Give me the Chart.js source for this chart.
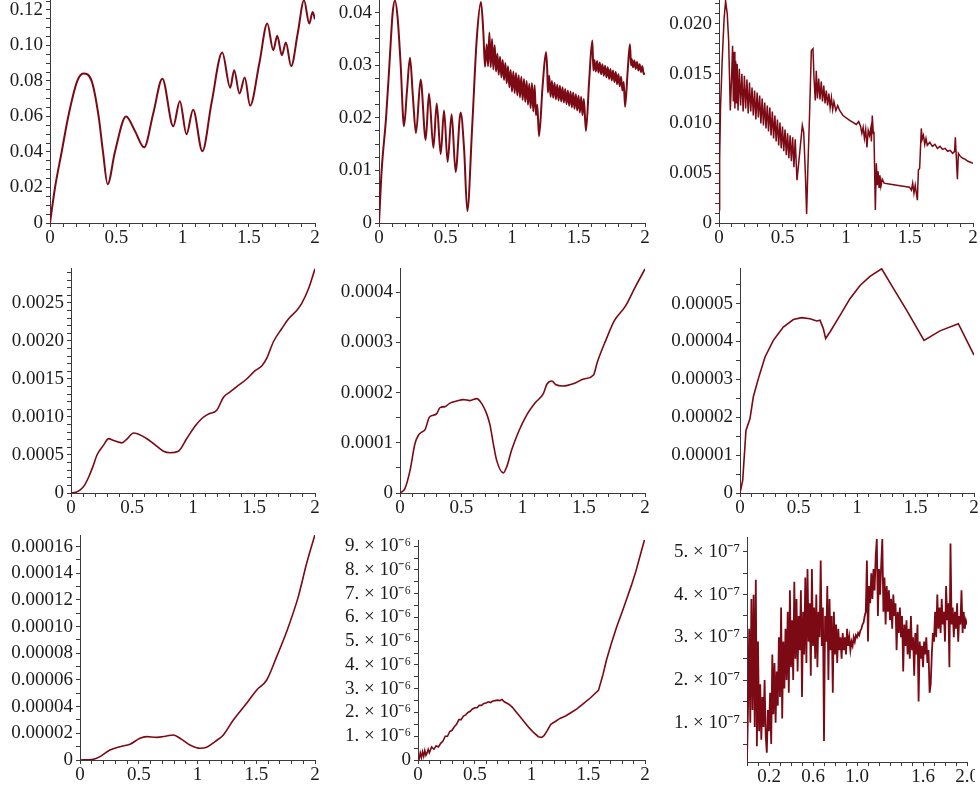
<!DOCTYPE html>
<html>
<head>
<meta charset="utf-8">
<script src="https://cdn.jsdelivr.net/npm/chart.js@4.4.1/dist/chart.umd.min.js"></script>
<style>
  html, body { margin: 0; padding: 0; background: #fff; }
  body { width: 980px; height: 785px; position: relative; overflow: hidden; }
  canvas { position: absolute; }
</style>
</head>
<body>
<canvas id="c1"></canvas><canvas id="c2"></canvas><canvas id="c3"></canvas>
<canvas id="c4"></canvas><canvas id="c5"></canvas><canvas id="c6"></canvas>
<canvas id="c7"></canvas><canvas id="c8"></canvas><canvas id="c9"></canvas>
<script>
// ---- shared x axis ticks ----
const xTickVals = [0, 0.5, 1, 1.5, 2];
const xTickLabels = ['0', '0.5', '1', '1.5', '2'];
const x9TickVals = [0.2, 0.6, 1.0, 1.6, 2.0];
const x9TickLabels = ['0.2', '0.6', '1.0', '1.6', '2.0'];

// ---- panel 1 ----
const p1x = [0, 0.038, 0.088, 0.138, 0.206, 0.252, 0.314, 0.367, 0.40, 0.435,
  0.49, 0.574, 0.64, 0.71, 0.78, 0.848, 0.93, 0.98, 1.03, 1.08,
  1.15, 1.22, 1.30, 1.36, 1.39, 1.43, 1.47, 1.51, 1.58, 1.64,
  1.685, 1.715, 1.75, 1.78, 1.82, 1.87, 1.917, 1.957, 1.982, 2.0];
const p1y = [0, 0.02, 0.04, 0.06, 0.08, 0.0842, 0.08, 0.06, 0.04, 0.0218,
  0.04, 0.060, 0.052, 0.0426, 0.062, 0.0813, 0.0545, 0.0686, 0.050, 0.0638,
  0.0404, 0.068, 0.096, 0.0762, 0.086, 0.0729, 0.0819, 0.0661, 0.090, 0.1123,
  0.0973, 0.1054, 0.0945, 0.1016, 0.0883, 0.107, 0.1254, 0.1123, 0.1189, 0.1147];
const p1YTicks = [0, 0.02, 0.04, 0.06, 0.08, 0.10, 0.12];
const p1YLabels = ['0', '0.02', '0.04', '0.06', '0.08', '0.10', '0.12'];

// ---- panel 2 ----
const p2x = [0, 0.02, 0.053, 0.078, 0.103, 0.12, 0.14, 0.163, 0.188, 0.21,
  0.233, 0.255, 0.278, 0.313, 0.351, 0.376, 0.409, 0.434, 0.464, 0.489,
  0.516, 0.546, 0.576, 0.614, 0.64, 0.664, 0.70, 0.735, 0.767, 0.785,
  0.797, 0.81, 0.82, 0.83, 0.84, 0.85, 0.86, 0.87, 0.88, 0.89,
  0.90, 0.91, 0.92, 0.93, 0.94, 0.95, 0.96, 0.97, 0.98, 0.99,
  1.00, 1.01, 1.02, 1.03, 1.04, 1.05, 1.06, 1.07, 1.08, 1.09,
  1.10, 1.11, 1.12, 1.13, 1.14, 1.15, 1.16, 1.17, 1.18, 1.19,
  1.203, 1.23, 1.256, 1.265, 1.27, 1.28, 1.29, 1.30, 1.31, 1.32,
  1.33, 1.34, 1.35, 1.36, 1.37, 1.38, 1.39, 1.40, 1.41, 1.42,
  1.43, 1.44, 1.45, 1.46, 1.47, 1.48, 1.49, 1.50, 1.51, 1.52,
  1.53, 1.54, 1.556, 1.58, 1.604, 1.612, 1.62, 1.63, 1.64, 1.65,
  1.66, 1.67, 1.68, 1.69, 1.70, 1.71, 1.72, 1.73, 1.74, 1.75,
  1.76, 1.77, 1.78, 1.79, 1.80, 1.81, 1.82, 1.83, 1.84, 1.85,
  1.87, 1.887, 1.895, 1.90, 1.91, 1.92, 1.93, 1.94, 1.95, 1.96,
  1.97, 1.98, 1.99, 2.00];
const p2y = [0, 0.010, 0.020, 0.030, 0.040, 0.0423, 0.039, 0.030, 0.0184, 0.025,
  0.0314, 0.024, 0.0171, 0.0273, 0.0158, 0.0246, 0.0143, 0.0227, 0.0131, 0.0214,
  0.0116, 0.0207, 0.0097, 0.021, 0.014, 0.0023, 0.018, 0.035, 0.042, 0.036,
  0.0297, 0.0340, 0.0298, 0.0362, 0.0296, 0.0350, 0.0292, 0.0338, 0.0288, 0.0322,
  0.0282, 0.0316, 0.0277, 0.0310, 0.0272, 0.0304, 0.0266, 0.0298, 0.0258, 0.0291,
  0.0250, 0.0288, 0.0247, 0.0285, 0.0243, 0.0281, 0.0239, 0.0278, 0.0234, 0.0274,
  0.0230, 0.0270, 0.0225, 0.0265, 0.0218, 0.0266, 0.0212, 0.0262, 0.0205, 0.0225,
  0.0165, 0.026, 0.0325, 0.0290, 0.0248, 0.0280, 0.0240, 0.0270, 0.0238, 0.0266,
  0.0235, 0.0263, 0.0233, 0.0261, 0.0231, 0.0258, 0.0229, 0.0255, 0.0226, 0.0252,
  0.0223, 0.0250, 0.0220, 0.0248, 0.0217, 0.0245, 0.0214, 0.0242, 0.0210, 0.0240,
  0.0205, 0.0236, 0.0175, 0.0270, 0.0347, 0.0290, 0.0310, 0.0288, 0.0308, 0.0286,
  0.0305, 0.0283, 0.0302, 0.0280, 0.0299, 0.0277, 0.0296, 0.0274, 0.0293, 0.0271,
  0.0290, 0.0268, 0.0287, 0.0264, 0.0283, 0.0260, 0.0278, 0.0252, 0.0268, 0.0221,
  0.029, 0.0340, 0.030, 0.0312, 0.0296, 0.0309, 0.0293, 0.0306, 0.0290, 0.0302,
  0.0287, 0.0298, 0.0283, 0.0285];
const p2YTicks = [0, 0.01, 0.02, 0.03, 0.04];
const p2YLabels = ['0', '0.01', '0.02', '0.03', '0.04'];

// ---- panel 3 ----
const p3x = [0, 0.005, 0.012, 0.025, 0.040, 0.052, 0.065, 0.076, 0.089, 0.100,
  0.107, 0.113, 0.120, 0.125, 0.131, 0.137, 0.143, 0.15, 0.16, 0.17,
  0.18, 0.19, 0.20, 0.21, 0.22, 0.23, 0.24, 0.25, 0.26, 0.27,
  0.28, 0.29, 0.30, 0.31, 0.32, 0.33, 0.34, 0.35, 0.36, 0.37,
  0.38, 0.39, 0.40, 0.41, 0.42, 0.43, 0.44, 0.45, 0.46, 0.47,
  0.48, 0.49, 0.50, 0.51, 0.52, 0.53, 0.54, 0.55, 0.56, 0.57,
  0.58, 0.59, 0.60, 0.614, 0.635, 0.656, 0.667, 0.680, 0.690, 0.700,
  0.714, 0.727, 0.740, 0.748, 0.758, 0.766, 0.775, 0.785, 0.795, 0.805,
  0.815, 0.825, 0.835, 0.845, 0.855, 0.865, 0.875, 0.885, 0.895, 0.905,
  0.92, 0.935, 0.95, 0.976, 1.029, 1.081, 1.100, 1.115, 1.125, 1.135,
  1.145, 1.155, 1.165, 1.175, 1.185, 1.195, 1.200, 1.207, 1.215, 1.220,
  1.231, 1.239, 1.246, 1.253, 1.260, 1.267, 1.275, 1.285, 1.30, 1.35,
  1.40, 1.45, 1.50, 1.515, 1.525, 1.535, 1.545, 1.555, 1.562, 1.570,
  1.580, 1.593, 1.600, 1.610, 1.620, 1.630, 1.64, 1.66, 1.68, 1.70,
  1.72, 1.74, 1.76, 1.78, 1.80, 1.82, 1.84, 1.855, 1.861, 1.877,
  1.885, 1.90, 1.92, 1.94, 1.96, 1.98, 2.00];
const p3y = [0.0013, 0.0063, 0.0116, 0.0163, 0.0205, 0.0223, 0.0210, 0.0183, 0.0113, 0.0150,
  0.0178, 0.0122, 0.0172, 0.0115, 0.0163, 0.0120, 0.0160, 0.0113, 0.0155, 0.0118,
  0.0150, 0.0112, 0.0148, 0.0115, 0.0144, 0.0110, 0.0141, 0.0112, 0.0136, 0.0108,
  0.0133, 0.0104, 0.0131, 0.0106, 0.0128, 0.0100, 0.0125, 0.0098, 0.0121, 0.0095,
  0.0118, 0.0092, 0.0116, 0.0088, 0.0112, 0.0085, 0.0108, 0.0082, 0.0104, 0.0078,
  0.0101, 0.0075, 0.0097, 0.0072, 0.0094, 0.0068, 0.0090, 0.0065, 0.0088, 0.0062,
  0.0086, 0.0056, 0.0084, 0.0043, 0.0070, 0.0098, 0.0091, 0.0050, 0.0009, 0.0056,
  0.0113, 0.0173, 0.0175, 0.0146, 0.0123, 0.0153, 0.0125, 0.0145, 0.0124, 0.0142,
  0.0122, 0.0138, 0.0120, 0.0133, 0.0118, 0.0130, 0.0116, 0.0126, 0.0114, 0.0122,
  0.0113, 0.0118, 0.0113, 0.0108, 0.0103, 0.0099, 0.0102, 0.0097, 0.0090, 0.0096,
  0.0085, 0.0094, 0.0076, 0.0093, 0.0088, 0.0095, 0.0082, 0.0108, 0.0090, 0.0092,
  0.0013, 0.0060, 0.0038, 0.0052, 0.0036, 0.0048, 0.0037, 0.0044, 0.0040, 0.0039,
  0.0038, 0.0037, 0.0036, 0.0033, 0.0040, 0.0030, 0.0038, 0.0029, 0.0023, 0.0053,
  0.0055, 0.0095, 0.0084, 0.0088, 0.0079, 0.0085, 0.0078, 0.0081, 0.0077, 0.0079,
  0.0075, 0.0077, 0.0074, 0.0075, 0.0072, 0.0073, 0.0070, 0.0072, 0.0086, 0.0044,
  0.0070, 0.0067, 0.0065, 0.0064, 0.0062, 0.0061, 0.0060];
const p3YTicks = [0, 0.005, 0.010, 0.015, 0.020];
const p3YLabels = ['0', '0.005', '0.010', '0.015', '0.020'];

// ---- panel 4 ----
const p4x = [0, 0.04, 0.076, 0.11, 0.145, 0.18, 0.213, 0.267, 0.308, 0.35,
  0.417, 0.458, 0.513, 0.595, 0.677, 0.758, 0.813, 0.88, 0.95, 1.018,
  1.072, 1.127, 1.195, 1.25, 1.304, 1.359, 1.44, 1.509, 1.563, 1.604,
  1.659, 1.727, 1.782, 1.85, 1.89, 1.95, 2.0];
const p4y = [0, 0.00001, 0.00004, 0.0001, 0.00021, 0.00035, 0.0005, 0.00063, 0.000715, 0.00069,
  0.00066, 0.00071, 0.00079, 0.00074, 0.00065, 0.00055, 0.00053, 0.00055, 0.00072, 0.00088,
  0.00098, 0.00104, 0.00109, 0.00126, 0.00133, 0.0014, 0.0015, 0.00161, 0.00167, 0.00177,
  0.00199, 0.00216, 0.00229, 0.0024, 0.00249, 0.0027, 0.00295];
const p4YTicks = [0, 0.0005, 0.0010, 0.0015, 0.0020, 0.0025];
const p4YLabels = ['0', '0.0005', '0.0010', '0.0015', '0.0020', '0.0025'];

// ---- panel 5 ----
const p5x = [0, 0.04, 0.082, 0.122, 0.15, 0.177, 0.204, 0.24, 0.272, 0.30,
  0.327, 0.367, 0.408, 0.463, 0.517, 0.571, 0.626, 0.667, 0.707, 0.735,
  0.762, 0.789, 0.844, 0.871, 0.912, 0.966, 1.034, 1.102, 1.17, 1.2,
  1.24, 1.27, 1.33, 1.42, 1.5, 1.58, 1.61, 1.68, 1.75, 1.84,
  1.92, 2.0];
const p5y = [0, 0.0000086, 0.000045, 0.000098, 0.000115, 0.000121, 0.000126, 0.000151, 0.000155, 0.000158,
  0.00017, 0.000172, 0.000179, 0.000183, 0.000186, 0.000184, 0.000188, 0.000178, 0.000158, 0.000135,
  0.000098, 0.000065, 0.00004, 0.000052, 0.000086, 0.000121, 0.000155, 0.000179, 0.000198, 0.000217,
  0.000223, 0.000216, 0.000213, 0.000218, 0.000227, 0.000235, 0.00026, 0.000304, 0.000343, 0.000372,
  0.00041, 0.000446];
const p5YTicks = [0, 0.0001, 0.0002, 0.0003, 0.0004];
const p5YLabels = ['0', '0.0001', '0.0002', '0.0003', '0.0004'];

// ---- panel 6 ----
const p6x = [0, 0.023, 0.051, 0.085, 0.114, 0.157, 0.214, 0.285, 0.37, 0.456,
  0.527, 0.598, 0.655, 0.684, 0.712, 0.732, 0.769, 0.855, 0.94, 1.026,
  1.111, 1.211, 1.311, 1.425, 1.573, 1.709, 1.866, 2.0];
const p6y = [0, 0.0000033, 0.0000165, 0.0000196, 0.0000254, 0.0000302, 0.0000359, 0.0000403, 0.0000438, 0.0000458,
  0.0000463, 0.000046, 0.0000454, 0.0000456, 0.0000434, 0.0000408, 0.0000425, 0.0000469, 0.0000513, 0.0000548,
  0.0000572, 0.0000592, 0.000054, 0.0000482, 0.0000403, 0.0000428, 0.0000447, 0.0000364];
const p6YTicks = [0, 0.00001, 0.00002, 0.00003, 0.00004, 0.00005];
const p6YLabels = ['0', '0.00001', '0.00002', '0.00003', '0.00004', '0.00005'];

// ---- panel 7 ----
const p7x = [0, 0.113, 0.17, 0.255, 0.34, 0.426, 0.51, 0.567, 0.652, 0.738,
  0.794, 0.865, 0.936, 1.021, 1.078, 1.149, 1.22, 1.305, 1.418, 1.504,
  1.589, 1.674, 1.759, 1.858, 1.929, 2.0];
const p7y = [0, 0.0000005, 0.0000025, 0.0000075, 0.00001, 0.0000118, 0.0000163, 0.0000175, 0.000017, 0.000018,
  0.0000188, 0.0000155, 0.0000113, 0.0000088, 0.0000095, 0.0000138, 0.0000188, 0.00003, 0.0000425, 0.0000525,
  0.00006, 0.0000775, 0.0000963, 0.0001225, 0.0001475, 0.000169];
const p7YTicks = [0, 0.00002, 0.00004, 0.00006, 0.00008, 0.00010, 0.00012, 0.00014, 0.00016];
const p7YLabels = ['0', '0.00002', '0.00004', '0.00006', '0.00008', '0.00010', '0.00012', '0.00014', '0.00016'];

// ---- panel 8 (values in units of 10^-6) ----
const p8x = [0, 0.01, 0.02, 0.03, 0.04, 0.05, 0.06, 0.07, 0.08, 0.09,
  0.10, 0.12, 0.14, 0.16, 0.18, 0.20, 0.22, 0.24, 0.26, 0.28,
  0.30, 0.32, 0.34, 0.36, 0.38, 0.40, 0.42, 0.44, 0.46, 0.48,
  0.50, 0.52, 0.54, 0.56, 0.58, 0.60, 0.62, 0.64, 0.66, 0.68,
  0.70, 0.72, 0.74, 0.76, 0.78, 0.80, 0.83, 0.86, 0.90, 0.94,
  0.98, 1.02, 1.06, 1.09, 1.11, 1.14, 1.17, 1.21, 1.25, 1.30,
  1.35, 1.40, 1.46, 1.52, 1.59, 1.63, 1.66, 1.70, 1.75, 1.80,
  1.84, 1.88, 1.92, 1.96, 2.00];
const p8y = [0.15, 0.05, 0.3, 0.1, 0.35, 0.15, 0.4, 0.2, 0.3, 0.45,
  0.3, 0.55, 0.45, 0.6, 0.55, 0.7, 0.8, 1.0, 1.0, 1.2,
  1.25, 1.4, 1.5, 1.7, 1.7, 1.85, 1.9, 2.0, 2.05, 2.15,
  2.2, 2.2, 2.3, 2.3, 2.38, 2.4, 2.45, 2.42, 2.48, 2.5,
  2.52, 2.5, 2.55, 2.45, 2.4, 2.35, 2.23, 2.05, 1.82, 1.58,
  1.35, 1.15, 0.98, 0.95, 1.02, 1.25, 1.5, 1.62, 1.75, 1.85,
  2.0, 2.15, 2.38, 2.62, 2.93, 3.6, 4.2, 4.85, 5.6, 6.25,
  6.8, 7.35, 7.95, 8.65, 9.35];
const p8YTicks = [0, 1, 2, 3, 4, 5, 6, 7, 8, 9];
const p8YLabels = ['0', '1. × 10⁻⁶', '2. × 10⁻⁶', '3. × 10⁻⁶', '4. × 10⁻⁶', '5. × 10⁻⁶',
  '6. × 10⁻⁶', '7. × 10⁻⁶', '8. × 10⁻⁶', '9. × 10⁻⁶'];

// ---- panel 9 (values in units of 10^-7) ----
const p9x = [0.00, 0.01, 0.02, 0.03, 0.04, 0.05, 0.06, 0.07, 0.08, 0.09,
  0.10, 0.11, 0.12, 0.13, 0.14, 0.15, 0.16, 0.17, 0.18, 0.19,
  0.20, 0.21, 0.22, 0.23, 0.24, 0.25, 0.26, 0.27, 0.28, 0.29,
  0.30, 0.31, 0.32, 0.33, 0.34, 0.35, 0.36, 0.37, 0.38, 0.39,
  0.40, 0.41, 0.42, 0.43, 0.44, 0.45, 0.46, 0.47, 0.48, 0.49,
  0.50, 0.51, 0.52, 0.53, 0.54, 0.55, 0.56, 0.57, 0.58, 0.59,
  0.60, 0.61, 0.62, 0.63, 0.64, 0.65, 0.66, 0.67, 0.68, 0.69,
  0.70, 0.71, 0.72, 0.73, 0.74, 0.75, 0.76, 0.77, 0.78, 0.79,
  0.80, 0.81, 0.82, 0.83, 0.84, 0.85, 0.86, 0.87, 0.88, 0.89,
  0.90, 0.91, 0.92, 0.93, 0.94, 0.95, 0.96, 0.97, 0.98, 0.99,
  1.00, 1.01, 1.02, 1.03, 1.04, 1.05, 1.06, 1.07, 1.08, 1.09,
  1.10, 1.11, 1.12, 1.13, 1.14, 1.15, 1.16, 1.17, 1.18, 1.19,
  1.20, 1.21, 1.22, 1.23, 1.24, 1.25, 1.26, 1.27, 1.28, 1.29,
  1.30, 1.31, 1.32, 1.33, 1.34, 1.35, 1.36, 1.37, 1.38, 1.39,
  1.40, 1.41, 1.42, 1.43, 1.44, 1.45, 1.46, 1.47, 1.48, 1.49,
  1.50, 1.51, 1.52, 1.53, 1.54, 1.55, 1.56, 1.57, 1.58, 1.59,
  1.60, 1.61, 1.62, 1.63, 1.64, 1.65, 1.66, 1.67, 1.68, 1.69,
  1.70, 1.71, 1.72, 1.73, 1.74, 1.75, 1.76, 1.77, 1.78, 1.79,
  1.80, 1.81, 1.82, 1.83, 1.84, 1.85, 1.86, 1.87, 1.88, 1.89,
  1.90, 1.91, 1.92, 1.93, 1.94, 1.95, 1.96, 1.97, 1.98, 1.99,
  2.00];
const p9y = [0.12, 1.4, 3.2, 1.0, 3.9, 1.3, 4.0, 0.9, 4.35, 0.45,
  2.9, 0.8, 1.9, 0.6, 1.6, 0.9, 2.0, 0.7, 0.3, 1.3,
  0.8, 1.7, 0.5, 2.6, 1.2, 2.4, 1.0, 2.2, 1.4, 3.0,
  1.6, 3.7, 1.1, 2.9, 1.8, 3.2, 2.0, 3.6, 1.7, 4.1,
  2.3, 3.4, 2.0, 4.3, 2.5, 3.9, 2.2, 3.5, 2.7, 4.1,
  1.6, 3.6, 2.6, 4.4, 2.4, 4.6, 2.9, 3.8, 2.1, 4.6,
  2.8, 3.7, 2.5, 4.0, 2.3, 3.6, 3.0, 4.8, 2.8, 3.7,
  0.57, 3.5, 2.9, 4.2, 2.0, 3.9, 2.7, 3.5, 1.7, 3.6,
  2.6, 3.3, 2.4, 3.2, 2.7, 3.0, 2.5, 3.1, 2.7, 3.0,
  2.6, 3.2, 2.8, 3.0, 2.7, 2.9, 2.8, 3.0, 2.9, 3.05,
  3.0, 3.1, 3.05, 3.15, 3.2, 3.3, 3.35, 3.5, 3.6, 4.8,
  2.9, 4.2, 3.8, 4.5, 3.9, 4.6, 4.1, 4.9, 5.3, 3.5,
  4.6, 4.0, 4.7, 5.3, 3.6, 4.4, 3.3, 4.2, 3.6, 4.1,
  3.4, 3.9, 3.2, 4.0, 3.5, 3.8, 2.7, 3.6, 3.1, 3.7,
  3.0, 3.5, 2.2, 3.3, 2.8, 3.4, 2.6, 3.2, 2.5, 3.5,
  2.7, 3.0, 2.1, 3.1, 2.6, 3.3, 1.5, 2.9, 2.5, 2.8,
  2.3, 2.9, 2.6, 3.0, 2.4, 2.7, 1.7, 1.9, 2.6, 3.1,
  2.9, 3.6, 3.0, 4.0, 3.2, 3.7, 3.1, 3.9, 3.3, 3.6,
  2.9, 4.2, 3.4, 3.8, 2.3, 5.2, 3.3, 3.7, 3.0, 3.6,
  3.2, 3.8, 2.9, 3.5, 3.3, 4.1, 3.1, 3.6, 3.2, 3.4,
  3.3];
const p9YTicks = [1, 2, 3, 4, 5];
const p9YLabels = ['1. × 10⁻⁷', '2. × 10⁻⁷', '3. × 10⁻⁷', '4. × 10⁻⁷', '5. × 10⁻⁷'];

// ---- styling ----
const LINE_COLOR = '#7b0a14';
const AXIS_COLOR = '#3a3a3a';
const TEXT_COLOR = '#1c1c1c';
const TICK_FONT = { family: "'Liberation Serif', 'Times New Roman', serif", size: 19 };
const PAD_R = 8, X_H = 27;

// frame = pixel box of the plot area on the page, yW = room for y labels
const panels = [
  { id: 'c1', xs: p1x, ys: p1y, yMin: 0, yMax: 0.1256, yT: p1YTicks, yL: p1YLabels, yMinor: 0.005,
    frame: { left: 50, right: 315, top: 0, bottom: 223, yW: 50 }, smooth: true, width: 2 },
  { id: 'c2', xs: p2x, ys: p2y, yMin: 0, yMax: 0.0424, yT: p2YTicks, yL: p2YLabels, yMinor: 0.0025,
    frame: { left: 379, right: 645, top: 0, bottom: 223, yW: 49 }, smooth: true, width: 2 },
  { id: 'c3', xs: p3x, ys: p3y, yMin: 0, yMax: 0.0224, yT: p3YTicks, yL: p3YLabels, yMinor: 0.001,
    frame: { left: 719, right: 973, top: 0, bottom: 223, yW: 59 }, smooth: false, width: 1.5 },
  { id: 'c4', xs: p4x, ys: p4y, yMin: 0, yMax: 0.00296, yT: p4YTicks, yL: p4YLabels, yMinor: 0.0001,
    frame: { left: 71, right: 315, top: 268, bottom: 493, yW: 71 }, smooth: true, width: 1.6 },
  { id: 'c5', xs: p5x, ys: p5y, yMin: 0, yMax: 0.000448, yT: p5YTicks, yL: p5YLabels, yMinor: 0.00005,
    frame: { left: 400, right: 645, top: 268, bottom: 493, yW: 70 }, smooth: true, width: 1.6 },
  { id: 'c6', xs: p6x, ys: p6y, yMin: 0, yMax: 0.0000594, yT: p6YTicks, yL: p6YLabels, yMinor: 0.000005,
    frame: { left: 740, right: 974, top: 268, bottom: 493, yW: 78 }, smooth: false, width: 1.6 },
  { id: 'c7', xs: p7x, ys: p7y, yMin: 0, yMax: 0.0001687, yT: p7YTicks, yL: p7YLabels, yMinor: 0.00001,
    frame: { left: 80, right: 315, top: 535, bottom: 760, yW: 80 }, smooth: true, width: 1.6 },
  { id: 'c8', xs: p8x, ys: p8y, yMin: 0, yMax: 9.26, yT: p8YTicks, yL: p8YLabels, yMinor: 0.5,
    frame: { left: 418, right: 645, top: 540, bottom: 760, yW: 88 }, smooth: false, width: 1.6 },
  { id: 'c9', xs: p9x, ys: p9y, yMin: 0.08, yMax: 5.35, yT: p9YTicks, yL: p9YLabels, yMinor: 0.5,
    frame: { left: 747, right: 967, top: 537, bottom: 762, yW: 87 }, smooth: false, width: 1.8,
    xT: x9TickVals, xL: x9TickLabels }
];

function buildTicks(vals, labels, minor, min, max) {
  const ticks = vals.map((v, i) => ({ value: v, label: labels[i] }));
  if (minor) {
    const start = Math.ceil(min / minor - 1e-9);
    const end = Math.floor(max / minor + 1e-9);
    for (let k = start; k <= end; k++) {
      const v = k * minor;
      if (!vals.some(m => Math.abs(m - v) < minor * 1e-3)) {
        ticks.push({ value: v, label: '' });
      }
    }
  }
  return ticks.sort((a, b) => a.value - b.value);
}

function drawPanel(p) {
  if (p.xs.length !== p.ys.length) {
    console.error('length mismatch in', p.id, p.xs.length, p.ys.length);
  }
  const f = p.frame;
  const padT = f.top === 0 ? 0 : 12;
  const canvas = document.getElementById(p.id);
  canvas.width = f.right - f.left + f.yW + PAD_R;
  canvas.height = f.bottom - f.top + padT + X_H;
  canvas.style.left = (f.left - f.yW) + 'px';
  canvas.style.top = (f.top - padT) + 'px';

  const yTicks = buildTicks(p.yT, p.yL, p.yMinor, p.yMin, p.yMax);
  const xTicks = buildTicks(p.xT || xTickVals, p.xL || xTickLabels, 0.1, 0, 2);
  const points = p.xs.map((x, i) => ({ x: x, y: p.ys[i] }));

  const grid = { display: true, drawOnChartArea: false, drawTicks: true, tickLength: 4, color: AXIS_COLOR, lineWidth: 1 };
  const border = { display: true, color: AXIS_COLOR, width: 1 };

  new Chart(canvas.getContext('2d'), {
    type: 'line',
    data: {
      datasets: [{
        data: points,
        borderColor: LINE_COLOR,
        borderWidth: p.width,
        pointRadius: 0,
        fill: false,
        cubicInterpolationMode: p.smooth ? 'monotone' : 'default',
        tension: 0
      }]
    },
    options: {
      responsive: false,
      animation: false,
      devicePixelRatio: 1,
      layout: { padding: { left: 0, right: PAD_R, top: padT, bottom: 0 } },
      plugins: { legend: { display: false }, tooltip: { enabled: false } },
      scales: {
        x: {
          type: 'linear', min: 0, max: 2,
          grid: grid, border: border,
          ticks: {
            font: TICK_FONT, color: TEXT_COLOR, padding: 0,
            maxRotation: 0, autoSkip: false,
            callback: (v, i, t) => t[i].label
          },
          afterBuildTicks: ax => { ax.ticks = xTicks.map(t => ({ value: t.value, label: t.label })); },
          afterFit: ax => { ax.height = X_H; ax.paddingLeft = 0; ax.paddingRight = 0; }
        },
        y: {
          type: 'linear', min: p.yMin, max: p.yMax,
          grid: grid, border: border,
          ticks: {
            font: TICK_FONT, color: TEXT_COLOR, padding: 3,
            autoSkip: false,
            callback: (v, i, t) => t[i].label
          },
          afterBuildTicks: ax => { ax.ticks = yTicks.map(t => ({ value: t.value, label: t.label })); },
          afterFit: ax => { ax.width = f.yW; ax.paddingTop = 0; ax.paddingBottom = 0; }
        }
      }
    }
  });
}

panels.forEach(drawPanel);
</script>
</body>
</html>
